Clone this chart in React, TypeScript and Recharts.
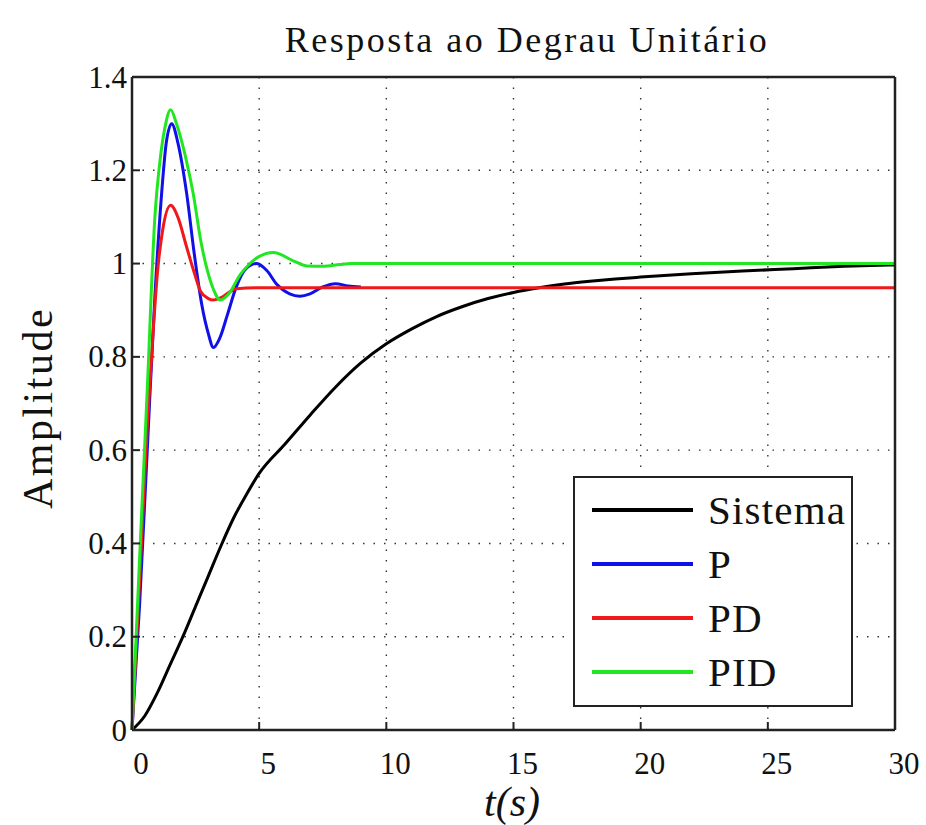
import React from "react";
import { CartesianGrid, Legend, Line, LineChart, XAxis, YAxis } from "recharts";

// tick labels
const xTicks = [0, 5, 10, 15, 20, 25, 30];
const yTicks = [0, 0.2, 0.4, 0.6, 0.8, 1, 1.2, 1.4];

// Sistema (open loop)
const sistemaTime = [0, 0.5, 1, 1.5, 2, 2.5, 3, 3.5, 4, 4.5, 5, 6, 7, 8, 9, 10, 11, 12, 13, 14, 15, 16, 17, 18, 19, 20, 22, 24, 26, 28, 30];
const sistemaAmp = [0, 0.03, 0.08, 0.14, 0.2, 0.265, 0.33, 0.395, 0.455, 0.505, 0.55, 0.612, 0.675, 0.735, 0.787, 0.828, 0.86, 0.887, 0.908, 0.925, 0.938, 0.948, 0.956, 0.962, 0.967, 0.971, 0.978, 0.984, 0.989, 0.994, 0.997];

// P controller
const pTime = [0, 0.3, 0.6, 0.9, 1.15, 1.35, 1.56, 1.8, 2.15, 2.45, 2.75, 3.0, 3.2, 3.45, 3.75, 4.1, 4.5, 4.9, 5.3, 5.7, 6.2, 6.6, 7.0, 7.5, 8.0, 8.5, 9.0];
const pAmp = [0, 0.27, 0.6, 0.93, 1.14, 1.26, 1.3, 1.26, 1.15, 1.02, 0.91, 0.85, 0.82, 0.84, 0.89, 0.95, 0.99, 1.0, 0.985, 0.955, 0.935, 0.93, 0.935, 0.95, 0.957, 0.952, 0.95];

// PD controller
const pdTime = [0, 0.3, 0.6, 0.85, 1.0, 1.2, 1.52, 1.8, 2.15, 2.45, 2.7, 3.0, 3.2, 3.5, 3.8, 4.1, 5, 30];
const pdAmp = [0, 0.32, 0.65, 0.87, 0.98, 1.07, 1.125, 1.1, 1.035, 0.98, 0.94, 0.925, 0.922, 0.927, 0.938, 0.946, 0.948, 0.948];

// PID controller
const pidTime = [0, 0.3, 0.6, 0.9, 1.1, 1.3, 1.52, 1.75, 2.1, 2.41, 2.7, 2.94, 3.2, 3.46, 3.8, 4.25, 4.6, 4.9, 5.56, 6.34, 6.87, 7.5, 8.18, 8.6, 30];
const pidAmp = [0, 0.37, 0.73, 1.1, 1.22, 1.293, 1.33, 1.3, 1.23, 1.149, 1.05, 0.99, 0.945, 0.922, 0.935, 0.976, 0.998, 1.012, 1.024, 1.006, 0.995, 0.994, 0.998, 1.0, 1.0];

const toPoints = (time: number[], amp: number[]) => time.map((t, i) => ({ t, y: amp[i] }));

const series = [
  { name: "Sistema", color: "#000000", data: toPoints(sistemaTime, sistemaAmp) },
  { name: "P", color: "#1010e8", data: toPoints(pTime, pAmp) },
  { name: "PD", color: "#f01818", data: toPoints(pdTime, pdAmp) },
  { name: "PID", color: "#22e622", data: toPoints(pidTime, pidAmp) },
];
const seriesOrder = series.map((s) => s.name);

const serif = "Liberation Serif, DejaVu Serif, Noto Serif, serif";
const frame = "#222";

function BottomTick({ x, y, payload }: any) {
  return (
    <g>
      <line x1={x} x2={x} y1={y} y2={y - 8} stroke={frame} strokeWidth={2} />
      <text x={x + 9} y={y + 44} textAnchor="middle" fontFamily={serif} fontSize={31} fill="#111">
        {payload.value}
      </text>
    </g>
  );
}

function LeftTick({ x, y, payload }: any) {
  return (
    <g>
      <line x1={x} x2={x + 8} y1={y} y2={y} stroke={frame} strokeWidth={2} />
      <text x={x - 5} y={y + 10.5} textAnchor="end" fontFamily={serif} fontSize={31} fill="#111">
        {payload.value}
      </text>
    </g>
  );
}

function TopTick({ x, y }: any) {
  return <line x1={x} x2={x} y1={y} y2={y + 8} stroke={frame} strokeWidth={2} />;
}

function RightTick({ x, y }: any) {
  return <line x1={x} x2={x - 8} y1={y} y2={y} stroke={frame} strokeWidth={2} />;
}

function LegendBox({ payload }: any) {
  const items = [...(payload || [])].sort(
    (a: any, b: any) => seriesOrder.indexOf(a.value) - seriesOrder.indexOf(b.value)
  );
  return (
    <div
      style={{
        boxSizing: "border-box",
        width: 280,
        height: 231,
        border: `2.5px solid ${frame}`,
        background: "#fff",
        paddingTop: 5,
      }}
    >
      {items.map((item: any) => (
        <div key={item.value} style={{ position: "relative", height: 54 }}>
          <div
            style={{
              position: "absolute",
              left: 17,
              top: 25,
              width: 101,
              height: 3.5,
              background: item.color,
            }}
          />
          <div
            style={{
              position: "absolute",
              left: 133,
              top: 0,
              fontFamily: serif,
              fontSize: 41,
              lineHeight: "54px",
              letterSpacing: 1.2,
              color: "#111",
              whiteSpace: "nowrap",
            }}
          >
            {item.value}
          </div>
        </div>
      ))}
    </div>
  );
}

export default function App() {
  return (
    <div style={{ position: "absolute", left: 0, top: 0, width: 926, height: 825, background: "#fff" }}>
      <LineChart width={926} height={825} margin={{ top: 0, right: 0, bottom: 0, left: 0 }}>
        <CartesianGrid stroke="#333" strokeWidth={1.4} strokeDasharray="1.5 9" />
        <XAxis
          dataKey="t"
          type="number"
          domain={[0, 30]}
          ticks={xTicks}
          interval={0}
          height={95}
          tickSize={0}
          tickMargin={0}
          tickLine={false}
          axisLine={{ stroke: frame, strokeWidth: 2.5 }}
          tick={<BottomTick />}
        />
        <XAxis
          xAxisId="top"
          orientation="top"
          dataKey="t"
          type="number"
          domain={[0, 30]}
          ticks={xTicks}
          interval={0}
          height={77}
          tickSize={0}
          tickMargin={0}
          tickLine={false}
          axisLine={{ stroke: frame, strokeWidth: 2.5 }}
          tick={<TopTick />}
        />
        <YAxis
          type="number"
          domain={[0, 1.4]}
          ticks={yTicks}
          interval={0}
          width={132}
          tickSize={0}
          tickMargin={0}
          tickLine={false}
          axisLine={{ stroke: frame, strokeWidth: 2.5 }}
          tick={<LeftTick />}
        />
        <YAxis
          yAxisId="right"
          orientation="right"
          type="number"
          domain={[0, 1.4]}
          ticks={yTicks}
          interval={0}
          width={31}
          tickSize={0}
          tickMargin={0}
          tickLine={false}
          axisLine={{ stroke: frame, strokeWidth: 2.5 }}
          tick={<RightTick />}
        />
        {series.map((s) => (
          <Line
            key={s.name}
            name={s.name}
            data={s.data}
            dataKey="y"
            type="monotone"
            stroke={s.color}
            strokeWidth={3}
            dot={false}
            activeDot={false}
            legendType="line"
            isAnimationActive={false}
          />
        ))}
        <Legend
          layout="vertical"
          align="center"
          verticalAlign="middle"
          wrapperStyle={{ left: 573, top: 476, width: 280, height: 231 }}
          content={<LegendBox />}
        />
      </LineChart>
      <div
        style={{
          position: "absolute",
          left: 527,
          top: 22,
          transform: "translateX(-50%)",
          fontFamily: serif,
          fontSize: 36,
          lineHeight: "36px",
          letterSpacing: 2.5,
          color: "#111",
          whiteSpace: "nowrap",
        }}
      >
        Resposta ao Degrau Unitário
      </div>
      <div
        style={{
          position: "absolute",
          left: 38,
          top: 408,
          transform: "translate(-50%, -50%) rotate(-90deg)",
          fontFamily: serif,
          fontSize: 42,
          lineHeight: "42px",
          letterSpacing: 2.5,
          color: "#111",
          whiteSpace: "nowrap",
        }}
      >
        Amplitude
      </div>
      <div
        style={{
          position: "absolute",
          left: 512,
          top: 781,
          transform: "translateX(-50%)",
          fontFamily: serif,
          fontStyle: "italic",
          fontSize: 42,
          lineHeight: "42px",
          color: "#111",
          whiteSpace: "nowrap",
        }}
      >
        t(s)
      </div>
    </div>
  );
}
